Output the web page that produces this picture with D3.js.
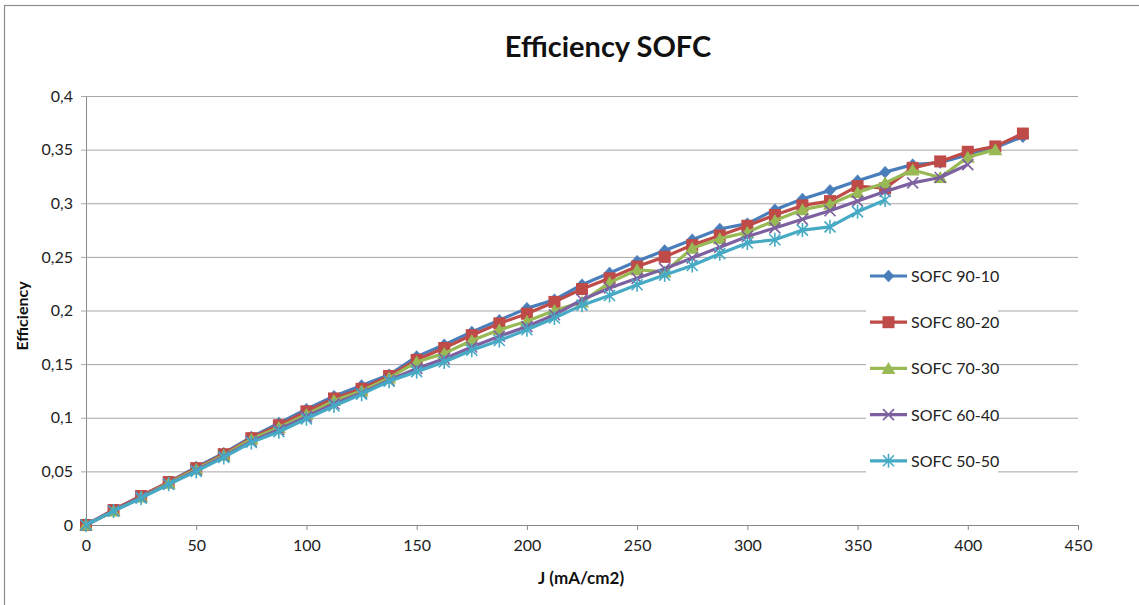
<!DOCTYPE html>
<html>
<head>
<meta charset="utf-8">
<script src="https://cdn.jsdelivr.net/npm/d3@7"></script>
<style>
  html, body { margin: 0; padding: 0; background: #fff; }
  svg { display: block; }
</style>
</head>
<body>
<svg id="chart" width="1139" height="605"></svg>
<script>
// Current density steps (mA/cm2)
const currentDensity = d3.range(0, 425.01, 12.5);

const seriesNames = ["SOFC 90-10", "SOFC 80-20", "SOFC 70-30", "SOFC 60-40", "SOFC 50-50"];

const sofc9010 = [0, 0.014, 0.027, 0.040, 0.054, 0.067, 0.082, 0.095, 0.108, 0.120, 0.130, 0.140,
  0.157, 0.168, 0.180, 0.191, 0.202, 0.210, 0.224, 0.235, 0.246, 0.256, 0.266, 0.276,
  0.281, 0.294, 0.304, 0.312, 0.321, 0.329, 0.336, 0.338, 0.345, 0.352, 0.362];
const sofc8020 = [0, 0.014, 0.027, 0.040, 0.053, 0.066, 0.081, 0.093, 0.106, 0.118, 0.127, 0.139,
  0.154, 0.165, 0.177, 0.188, 0.197, 0.208, 0.220, 0.230, 0.241, 0.250, 0.261, 0.270,
  0.279, 0.289, 0.298, 0.302, 0.316, 0.314, 0.333, 0.339, 0.348, 0.353, 0.365];
const sofc7030 = [0, 0.013, 0.026, 0.039, 0.052, 0.065, 0.080, 0.091, 0.103, 0.116, 0.125, 0.137,
  0.152, 0.160, 0.172, 0.182, 0.190, 0.200, 0.208, 0.226, 0.238, 0.236, 0.258, 0.267,
  0.273, 0.284, 0.294, 0.299, 0.310, 0.319, 0.331, 0.324, 0.343, 0.350];
const sofc6040 = [0, 0.013, 0.026, 0.038, 0.051, 0.064, 0.078, 0.089, 0.101, 0.113, 0.123, 0.135,
  0.146, 0.155, 0.166, 0.176, 0.185, 0.196, 0.210, 0.221, 0.230, 0.239, 0.249, 0.259,
  0.269, 0.277, 0.285, 0.293, 0.302, 0.311, 0.319, 0.324, 0.336];
const sofc5050 = [0, 0.013, 0.025, 0.038, 0.050, 0.063, 0.077, 0.087, 0.099, 0.111, 0.122, 0.134,
  0.143, 0.152, 0.163, 0.172, 0.182, 0.193, 0.205, 0.214, 0.224, 0.233, 0.242, 0.253,
  0.263, 0.266, 0.275, 0.278, 0.292, 0.303];

const xTicks = [0, 50, 100, 150, 200, 250, 300, 350, 400, 450];
const yTicks = [0, 0.05, 0.1, 0.15, 0.2, 0.25, 0.3, 0.35, 0.4];

const seriesValues = [sofc9010, sofc8020, sofc7030, sofc6040, sofc5050];
const colors = ["#4A7EBB", "#BE4B48", "#98B954", "#7D60A0", "#46AAC5"];
const markerKinds = ["diamond", "square", "triangle", "cross", "star"];

const svg = d3.select("#chart");
const font = "Lato, 'Open Sans', sans-serif";

// Outer chart frame
svg.append("rect")
  .attr("x", 4.5).attr("y", 5.5)
  .attr("width", 1200).attr("height", 700)
  .attr("fill", "#fff").attr("stroke", "#8c8c8c").attr("stroke-width", 1.2);

const plotLeft = 86, plotRight = 1078, plotTop = 96, plotBottom = 525;
const x = d3.scaleLinear().domain([0, 450]).range([plotLeft, plotRight]);
const y = d3.scaleLinear().domain([0, 0.4]).range([plotBottom, plotTop]);
const fmt = d => String(+d.toFixed(2)).replace(".", ",");

// Horizontal gridlines + y axis
const yAxis = d3.axisLeft(y).tickValues(yTicks).tickFormat(fmt)
  .tickSizeInner(-(plotRight - plotLeft)).tickSizeOuter(0).tickPadding(13);
const gy = svg.append("g").attr("transform", `translate(${plotLeft},0)`).call(yAxis);
gy.select(".domain").attr("stroke", "#888");
gy.selectAll(".tick line").attr("stroke", "#a6a6a6").attr("x1", -5);
gy.selectAll(".tick text").attr("font-family", font).attr("font-size", 16).attr("fill", "#222");

// x axis
const xAxis = d3.axisBottom(x).tickValues(xTicks).tickSizeInner(5).tickSizeOuter(0).tickPadding(10);
const gx = svg.append("g").attr("transform", `translate(0,${plotBottom})`).call(xAxis);
gx.select(".domain").attr("stroke", "#888");
gx.selectAll(".tick line").attr("stroke", "#888");
gx.selectAll(".tick text").attr("font-family", font).attr("font-size", 16).attr("fill", "#222");

// Titles
svg.append("text").attr("x", 608).attr("y", 57).attr("text-anchor", "middle")
  .attr("font-family", font).attr("font-weight", "bold").attr("font-size", 29).attr("fill", "#111")
  .text("Efficiency SOFC");
svg.append("text").attr("x", 581).attr("y", 584).attr("text-anchor", "middle")
  .attr("font-family", font).attr("font-weight", "bold").attr("font-size", 17).attr("fill", "#111")
  .text("J (mA/cm2)");
svg.append("text").attr("transform", "translate(28,316) rotate(-90)").attr("text-anchor", "middle")
  .attr("font-family", font).attr("font-weight", "bold").attr("font-size", 16).attr("fill", "#111")
  .text("Efficiency");

// Marker drawing
function drawMarker(g, kind, color, cx, cy) {
  if (kind === "diamond") {
    g.append("path").attr("d", `M${cx},${cy - 6}L${cx + 5.5},${cy}L${cx},${cy + 6}L${cx - 5.5},${cy}Z`)
      .attr("fill", color).attr("stroke", color).attr("stroke-width", 0.5);
  } else if (kind === "square") {
    g.append("rect").attr("x", cx - 6).attr("y", cy - 6).attr("width", 12).attr("height", 12)
      .attr("fill", color);
  } else if (kind === "triangle") {
    g.append("path").attr("d", `M${cx},${cy - 6.5}L${cx + 7},${cy + 5.5}L${cx - 7},${cy + 5.5}Z`)
      .attr("fill", color);
  } else if (kind === "cross") {
    g.append("path").attr("d", `M${cx - 5.5},${cy - 5.5}L${cx + 5.5},${cy + 5.5}M${cx - 5.5},${cy + 5.5}L${cx + 5.5},${cy - 5.5}`)
      .attr("stroke", color).attr("stroke-width", 1.6).attr("fill", "none");
  } else {
    g.append("path").attr("d", `M${cx - 5.5},${cy - 5.5}L${cx + 5.5},${cy + 5.5}M${cx - 5.5},${cy + 5.5}L${cx + 5.5},${cy - 5.5}M${cx},${cy - 7}L${cx},${cy + 7}`)
      .attr("stroke", color).attr("stroke-width", 1.6).attr("fill", "none");
  }
}

const line = d3.line().x(d => x(d[0])).y(d => y(d[1]));
const plot = svg.append("g");
seriesValues.forEach((vals, i) => {
  const pts = vals.map((v, k) => [currentDensity[k], v]);
  const g = plot.append("g");
  g.append("path").datum(pts).attr("d", line)
    .attr("fill", "none").attr("stroke", colors[i]).attr("stroke-width", 3.2)
    .attr("stroke-linejoin", "round");
  pts.forEach(p => drawMarker(g, markerKinds[i], colors[i], x(p[0]), y(p[1])));
});

// Legend
const legend = svg.append("g");
legend.append("rect").attr("x", 866).attr("y", 258).attr("width", 132).attr("height", 224).attr("fill", "#fff");
seriesNames.forEach((name, i) => {
  const ly = 276 + i * 46.2;
  const g = legend.append("g");
  g.append("line").attr("x1", 870).attr("x2", 907).attr("y1", ly).attr("y2", ly)
    .attr("stroke", colors[i]).attr("stroke-width", 3.2);
  drawMarker(g, markerKinds[i], colors[i], 888.5, ly);
  g.append("text").attr("x", 911).attr("y", ly + 6)
    .attr("font-family", font).attr("font-size", 16).attr("fill", "#222").text(name);
});
</script>
</body>
</html>
